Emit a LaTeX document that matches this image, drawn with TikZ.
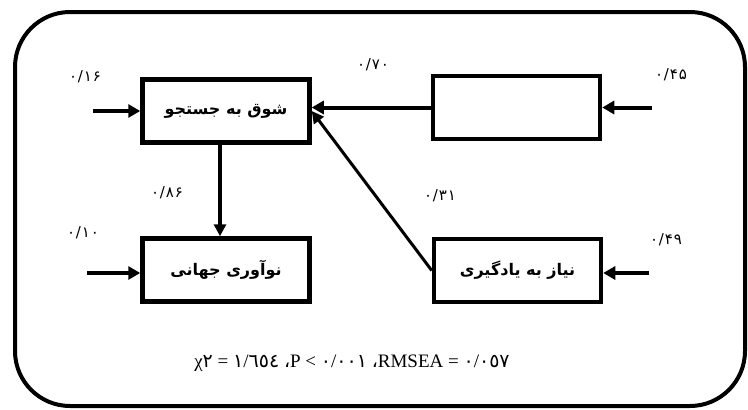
\documentclass[tikz,border=0pt]{standalone}
\usepackage{fontspec}
\setmainfont{Liberation Serif}
\newfontfamily\arabicfont[Script=Arabic]{DejaVu Sans}
\newfontfamily\coeffont[Script=Arabic,LetterSpace=6]{DejaVu Sans}
\TeXXeTstate=1
\usetikzlibrary{arrows.meta,calc}
\newcommand{\ar}[1]{{\arabicfont #1}}
\begin{document}
\begin{tikzpicture}[x=1pt,y=-1pt,
  box/.style={draw,line width=4.5pt,minimum width=167pt,minimum height=63pt,inner sep=0pt,
    font=\arabicfont\bfseries\fontsize{16}{19}\selectfont},
  conn/.style={line width=4pt,-{Triangle[length=12pt,width=13pt]}},
  thin conn/.style={line width=3pt,-{Triangle[length=12pt,width=12pt]}},
  coef/.style={font=\coeffont\fontsize{15}{17}\selectfont,inner sep=0pt}]
\useasboundingbox (0,0) rectangle (748,410);
\draw[line width=4pt,rounded corners=55pt] (15,12) rectangle (745,406);

\node[box] (b1) at (226,111) {\beginR شوق به جستجو\endR};
\node[box] (b2) at (516.5,107.5) {};
\node[box] (b3) at (226,270) {\beginR نوآوری جهانی\endR};
\node[box] (b4) at (517.5,270.5) {\beginR نیاز به یادگیری\endR};

\coordinate (e1) at (93,111);
\coordinate (e2) at (652,107.5);
\coordinate (e3) at (87,273);
\coordinate (e4) at (649,273);
\coordinate (vx) at (220,190);

\draw[conn] (e1) -- (e1 -| b1.west);
\draw[conn] (e2) -- (e2 -| b2.east);
\draw[conn] (e3) -- (e3 -| b3.west);
\draw[conn] (e4) -- (e4 -| b4.east);
\draw[conn] (b2.west) -- (b2.west -| b1.east);
\draw[thin conn] (b4.west) -- (b1.east);
\draw[line width=3.5pt,-{Triangle[length=12pt,width=12pt]}] (vx |- b1.south) -- (vx |- b3.north);

\node[coef] (c16) at (85,77) {۰/۱۶};
\node[coef] (c70) at (373,65) {۰/۷۰};
\node[coef] (c45) at (671,75) {۰/۴۵};
\node[coef] (c86) at (167,193) {۰/۸۶};
\node[coef] (c31) at (440,196) {۰/۳۱};
\node[coef] (c10) at (83,233) {۰/۱۰};
\node[coef] (c49) at (666,240) {۰/۴۹};

\node[font=\fontsize{19}{22}\selectfont,inner sep=0pt] (fit) at (352,363)
  {χ\ar{٢} = \ar{١}/\ar{٦٥٤} \ar{،}P < \ar{٠}/\ar{٠٠١} \ar{،}RMSEA = \ar{٠}/\ar{٠٥٧}};
\end{tikzpicture}
\end{document}
